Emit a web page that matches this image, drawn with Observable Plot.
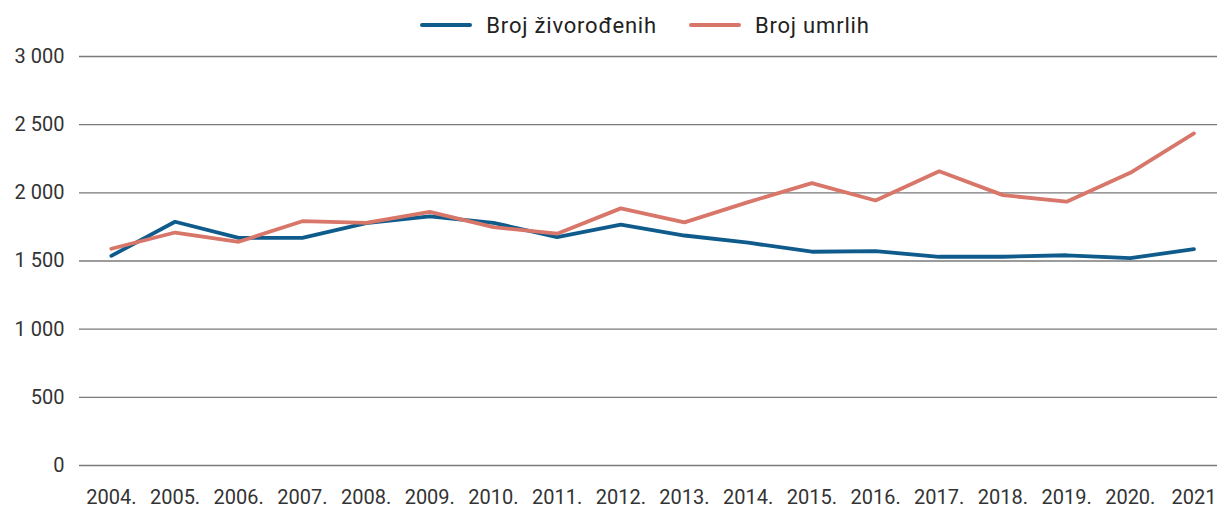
<!DOCTYPE html>
<html><head><meta charset="utf-8">
<script src="https://cdn.jsdelivr.net/npm/d3@7"></script>
<script src="https://cdn.jsdelivr.net/npm/@observablehq/plot@0.6"></script>
<style>
body{margin:0;background:#fff;font-family:Roboto,sans-serif;}
#legend{height:45px;width:1217px;box-sizing:border-box;padding-left:73px;padding-top:5px;display:flex;align-items:center;justify-content:center;font-size:22px;color:#222;letter-spacing:0.8px;}
.item{display:flex;align-items:center;margin:0 16px;}
.sw{width:52px;height:4px;border-radius:2px;margin-right:14px;}
</style></head><body>
<div id="legend"></div><div id="chart"></div>
<script>
const years = [2004,2005,2006,2007,2008,2009,2010,2011,2012,2013,2014,2015,2016,2017,2018,2019,2020,2021];
const yearLabels = ["2004.","2005.","2006.","2007.","2008.","2009.","2010.","2011.","2012.","2013.","2014.","2015.","2016.","2017.","2018.","2019.","2020.","2021"];
const births = [1538,1788,1670,1670,1778,1827,1780,1675,1766,1687,1634,1568,1572,1531,1531,1542,1521,1587];
const deaths = [1590,1709,1641,1792,1780,1861,1749,1700,1886,1783,1932,2071,1944,2159,1983,1935,2147,2436];
const seriesNames = ["Broj živorođenih","Broj umrlih"];
const seriesColors = ["#0f5b8c","#d8766a"];
const yTicks = [0,500,1000,1500,2000,2500,3000];

const rows = [];
years.forEach((y,i)=>{
  rows.push({year:y, value:births[i], series:seriesNames[0]});
  rows.push({year:y, value:deaths[i], series:seriesNames[1]});
});

const legend = document.getElementById("legend");
seriesNames.forEach((n,i)=>{
  const it = document.createElement("div"); it.className="item";
  const sw = document.createElement("div"); sw.className="sw"; sw.style.background=seriesColors[i];
  const t = document.createElement("span"); t.textContent=n;
  it.appendChild(sw); it.appendChild(t); legend.appendChild(it);
});

const fmt = d => d >= 1000 ? d3.format(",")(d).replace(/,/g, " ") : String(d);

const chart = Plot.plot({
  width: 1217, height: 466,
  marginLeft: 79, marginRight: 0, marginTop: 11, marginBottom: 46,
  style: {fontFamily: "Roboto, sans-serif", color: "#333", background: "#fff"},
  x: {domain: [2003.5, 2021.37]},
  y: {domain: [0, 3000]},
  color: {domain: seriesNames, range: seriesColors},
  marks: [
    Plot.ruleY(yTicks, {stroke: "#7a7a7a", strokeWidth: 1.3}),
    Plot.axisY({ticks: yTicks, tickFormat: fmt, tickSize: 0, tickPadding: 15, label: null, fill: "#333", fontSize: 20, style: "letter-spacing:0.6px"}),
    Plot.axisX({ticks: years, tickFormat: d => yearLabels[years.indexOf(d)], tickSize: 0, tickPadding: 24, label: null, fill: "#333", fontSize: 20, style: "letter-spacing:0.5px"}),
    Plot.line(rows, {x: "year", y: "value", stroke: "series", strokeWidth: 3.8, strokeLinejoin: "miter", strokeLinecap: "round"})
  ]
});
document.getElementById("chart").appendChild(chart);
</script>
</body></html>
